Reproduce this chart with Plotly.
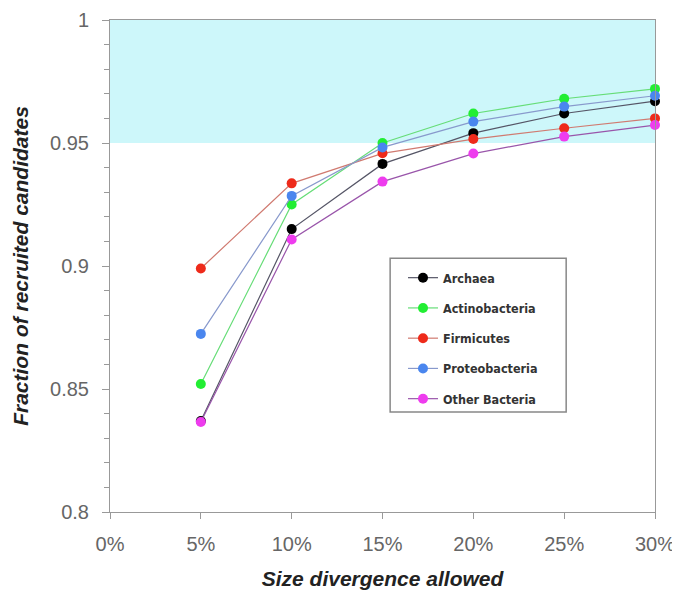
import plotly.graph_objects as go

x_vals = [5, 10, 15, 20, 25, 30]
series_names = ["Archaea", "Actinobacteria", "Firmicutes", "Proteobacteria", "Other Bacteria"]
archaea = [0.837, 0.915, 0.9415, 0.954, 0.962, 0.967]
actinobacteria = [0.852, 0.925, 0.950, 0.962, 0.968, 0.972]
firmicutes = [0.899, 0.9336, 0.9458, 0.9516, 0.956, 0.960]
proteobacteria = [0.8724, 0.9285, 0.9482, 0.9587, 0.9648, 0.9692]
other_bacteria = [0.8366, 0.9108, 0.9343, 0.9457, 0.9526, 0.9573]
x_tick_vals = [0, 5, 10, 15, 20, 25, 30]
x_tick_text = ["0%", "5%", "10%", "15%", "20%", "25%", "30%"]
y_tick_vals = [0.8, 0.85, 0.9, 0.95, 1.0]
y_tick_text = ["0.8", "0.85", "0.9", "0.95", "1"]

series_values = [archaea, actinobacteria, firmicutes, proteobacteria, other_bacteria]
marker_colors = ["#000000", "#22ee33", "#ee2a1a", "#4a86ee", "#ee3cee"]
line_colors = ["#555566", "#66dd77", "#d07a70", "#8899cc", "#9955aa"]

fig = go.Figure()

# shaded band above 0.95
fig.add_shape(type="rect", xref="x", yref="y", x0=0, x1=30, y0=0.95, y1=1.0,
              fillcolor="#cdf7fa", line=dict(width=0), layer="below")
# legend frame
fig.add_shape(type="rect", xref="paper", yref="paper", x0=0.514, x1=0.837, y0=0.203, y1=0.516,
              fillcolor="white", line=dict(color="#888888", width=1.5), layer="below")

for name, vals, mc, lc in zip(series_names, series_values, marker_colors, line_colors):
    fig.add_trace(go.Scatter(
        x=x_vals, y=vals, name=name, mode="lines+markers",
        line=dict(color=lc, width=1.2),
        marker=dict(color=mc, size=10),
        cliponaxis=False, legendgroup=name,
    ))

fig.update_layout(
    width=680, height=593,
    margin=dict(l=102, r=33, t=12, b=89, autoexpand=False),
    paper_bgcolor="white", plot_bgcolor="white",
    showlegend=True,
    legend=dict(
        x=0.5376, y=0.506, xanchor="left", yanchor="top",
        borderwidth=0, bgcolor="rgba(0,0,0,0)",
        font=dict(family="Liberation Sans Narrow, DejaVu Sans Condensed, Arial", size=12.5, color="#333333", weight="bold"),
        tracegroupgap=11, itemwidth=30,
    ),
    font=dict(family="Liberation Sans, Arial", color="#555555"),
)

fig.update_xaxes(
    range=[0, 30], tickvals=x_tick_vals, ticktext=x_tick_text, automargin=False,
    showgrid=False, zeroline=False, showline=True, linecolor="#999999", linewidth=1,
    mirror=True, ticks="outside", ticklen=6, tickcolor="#999999",
    tickfont=dict(size=20, color="#666666"), ticklabelstandoff=8,
    title=dict(text="<b><i>Size divergence allowed</i></b>", font=dict(size=21, color="#222222"), standoff=17),
)
fig.update_yaxes(
    range=[0.8, 1.0], tickvals=y_tick_vals, ticktext=y_tick_text, automargin=False,
    showgrid=False, zeroline=False, showline=True, linecolor="#999999", linewidth=1,
    mirror=True, ticks="outside", ticklen=7, tickcolor="#999999",
    minor=dict(dtick=0.01, ticks="outside", ticklen=5, tickcolor="#999999", showgrid=False),
    tickfont=dict(size=20, color="#666666"), ticklabelstandoff=9,
    title=dict(text="<b><i>Fraction of recruited candidates</i></b>", font=dict(size=21, color="#222222"), standoff=15),
)

fig.write_html("out.html")
